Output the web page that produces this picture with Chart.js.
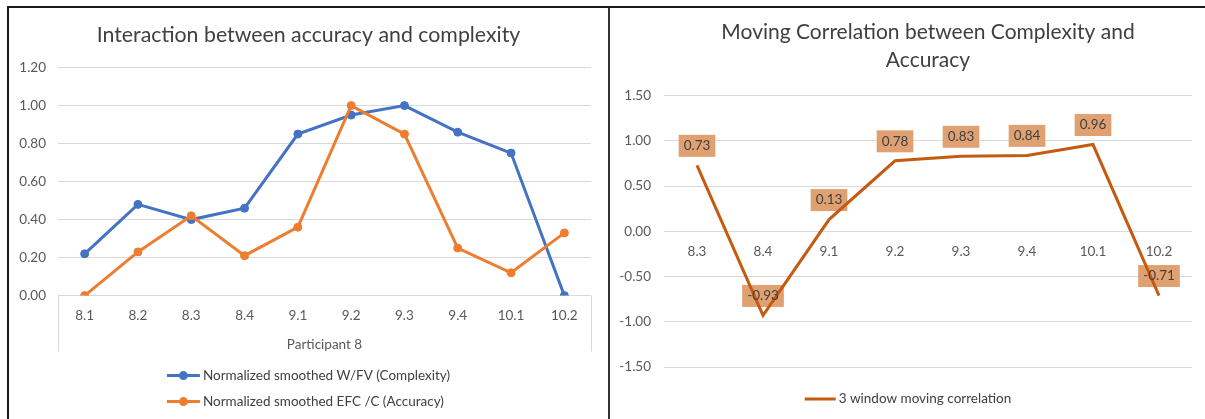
<!DOCTYPE html>
<html>
<head>
<meta charset="utf-8">
<script src="https://cdn.jsdelivr.net/npm/chart.js@4.4.1/dist/chart.umd.min.js"></script>
<style>
html,body{margin:0;padding:0;background:#fff;width:1205px;height:419px;overflow:hidden;}
#frame{position:absolute;left:7px;top:6px;width:1198px;height:413px;border-top:2px solid #1a1a1a;border-left:2px solid #1a1a1a;box-sizing:border-box;}
#divider{position:absolute;left:608px;top:8px;width:2px;height:411px;background:#333;}
#c1{position:absolute;left:9px;top:8px;}
#c2{position:absolute;left:611px;top:8px;}
</style>
</head>
<body>
<div id="frame"></div>
<div id="divider"></div>
<canvas id="c1" width="599" height="411"></canvas>
<canvas id="c2" width="594" height="411"></canvas>
<script>
// ---- data ----
const leftCategories = ['8.1','8.2','8.3','8.4','9.1','9.2','9.3','9.4','10.1','10.2'];
const complexitySeries = [0.22, 0.48, 0.40, 0.46, 0.85, 0.95, 1.00, 0.86, 0.75, 0.00];
const accuracySeries   = [0.00, 0.23, 0.42, 0.21, 0.36, 1.00, 0.85, 0.25, 0.12, 0.33];
const rightCategories = ['8.3','8.4','9.1','9.2','9.3','9.4','10.1','10.2'];
const movingCorrelation = [0.73, -0.93, 0.13, 0.78, 0.83, 0.84, 0.96, -0.71];
const leftTitle = 'Interaction between accuracy and complexity';
const leftXAxisTitle = 'Participant 8';
const rightTitle = ['Moving Correlation between Complexity and', 'Accuracy'];
const complexityLabel = 'Normalized smoothed W/FV (Complexity)';
const accuracyLabel = 'Normalized smoothed EFC /C (Accuracy)';
const correlationLabel = '3 window moving correlation';

// ---- style ----
const FONT = 'Lato';
const GRID = '#d9d9d9';
const TICK = '#595959';
const TEXT = '#404040';
Chart.defaults.font.family = FONT;
Chart.defaults.color = TICK;

function legendPlugin(offsetY, rowGap, lineLen, withMarker) {
  return {
    id: 'customLegend',
    afterDraw(chart) {
      const ctx = chart.ctx;
      ctx.save();
      ctx.font = '13.5px ' + FONT;
      const items = chart.data.datasets.map(ds => ({label: ds.label, color: ds.borderColor}));
      const maxW = Math.max(...items.map(it => ctx.measureText(it.label).width));
      const total = lineLen + 3 + maxW;
      const x0 = (chart.width - total) / 2;
      items.forEach((it, i) => {
        const y = chart.chartArea.bottom + offsetY + i * rowGap;
        ctx.strokeStyle = it.color; ctx.lineWidth = 3;
        ctx.beginPath(); ctx.moveTo(x0, y); ctx.lineTo(x0 + lineLen, y); ctx.stroke();
        if (withMarker) {
          ctx.fillStyle = it.color;
          ctx.beginPath(); ctx.arc(x0 + lineLen / 2, y, 4.5, 0, Math.PI * 2); ctx.fill();
        }
        ctx.fillStyle = TEXT; ctx.textAlign = 'left'; ctx.textBaseline = 'middle';
        ctx.fillText(it.label, x0 + lineLen + 3, y);
      });
      ctx.restore();
    }
  };
}

const edgeLines = {
  id: 'edgeLines',
  afterDraw(chart) {
    const {left, right, bottom} = chart.chartArea;
    const ctx = chart.ctx;
    ctx.save();
    ctx.strokeStyle = GRID; ctx.lineWidth = 1;
    [left, right].forEach(x => {
      ctx.beginPath(); ctx.moveTo(Math.round(x) + 0.5, bottom); ctx.lineTo(Math.round(x) + 0.5, bottom + 56); ctx.stroke();
    });
    ctx.restore();
  }
};

const dataLabels = {
  id: 'dataLabels',
  beforeDatasetsDraw(chart) {
    const ctx = chart.ctx;
    const meta = chart.getDatasetMeta(0);
    ctx.save();
    ctx.font = '13.5px ' + FONT;
    meta.data.forEach((pt, i) => {
      const txt = chart.data.datasets[0].data[i].toFixed(2);
      const w = ctx.measureText(txt).width + 10, h = 22;
      ctx.fillStyle = 'rgb(224,161,114)';
      ctx.fillRect(pt.x - w / 2, pt.y - 19.5 - h / 2, w, h);
    });
    ctx.restore();
  },
  afterDatasetsDraw(chart) {
    const ctx = chart.ctx;
    const meta = chart.getDatasetMeta(0);
    ctx.save();
    ctx.font = '13.5px ' + FONT;
    ctx.fillStyle = TEXT; ctx.textAlign = 'center'; ctx.textBaseline = 'middle';
    meta.data.forEach((pt, i) => {
      ctx.fillText(chart.data.datasets[0].data[i].toFixed(2), pt.x, pt.y - 19.5);
    });
    ctx.restore();
  }
};

// ---- left chart ----
new Chart(document.getElementById('c1'), {
  type: 'line',
  data: {
    labels: leftCategories,
    datasets: [
      {label: complexityLabel, data: complexitySeries, borderColor: '#4472C4', backgroundColor: '#4472C4',
       pointBackgroundColor: '#4472C4', pointBorderColor: '#4472C4', borderWidth: 3, pointRadius: 4, pointBorderWidth: 1, order: 2},
      {label: accuracyLabel, data: accuracySeries, borderColor: '#ED7D31', backgroundColor: '#ED7D31',
       pointBackgroundColor: '#ED7D31', pointBorderColor: '#ED7D31', borderWidth: 3, pointRadius: 4, pointBorderWidth: 1, order: 1}
    ]
  },
  options: {
    responsive: false, animation: false, devicePixelRatio: 1,
    layout: {padding: {left: 1, right: 1, top: 0, bottom: 66}},
    plugins: {
      legend: {display: false}, tooltip: {enabled: false},
      title: {display: true, text: leftTitle, color: TEXT, font: {size: 21.3, weight: 'normal'}, padding: {top: 14, bottom: 20}}
    },
    scales: {
      x: {offset: true, grid: {display: false, drawTicks: false}, border: {display: false},
          ticks: {padding: 12, font: {size: 13.5}, color: TICK, maxRotation: 0, autoSkip: false},
          title: {display: true, text: leftXAxisTitle, color: TICK, font: {size: 13.5}, padding: {top: 1, bottom: 0}},
          afterFit(s) { s.paddingLeft = 0; s.paddingRight = 0; }},
      y: {min: 0, max: 1.2, ticks: {stepSize: 0.2, padding: 12, font: {size: 13.5}, color: TICK, callback: v => Number(v).toFixed(2)},
          grid: {color: GRID, drawTicks: false}, border: {display: false},
          afterFit(s) { s.width = 48; }},
      ySpace: {position: 'right', grid: {display: false, drawTicks: false}, border: {display: false},
               ticks: {display: false}, afterFit(s) { s.width = 16; }}
    }
  },
  plugins: [edgeLines, legendPlugin(80, 26, 33, true)]
});

// ---- right chart ----
new Chart(document.getElementById('c2'), {
  type: 'line',
  data: {
    labels: rightCategories,
    datasets: [
      {label: correlationLabel, data: movingCorrelation, borderColor: '#C55A11', backgroundColor: '#C55A11',
       borderWidth: 3, pointRadius: 0}
    ]
  },
  options: {
    responsive: false, animation: false, devicePixelRatio: 1,
    layout: {padding: {left: 8, right: 13, top: 0, bottom: 52}},
    plugins: {
      legend: {display: false}, tooltip: {enabled: false},
      title: {display: true, fullSize: false, text: rightTitle, color: TEXT, font: {size: 21, weight: 'normal', lineHeight: 1.35}, padding: {top: 10, bottom: 21}}
    },
    scales: {
      x: {offset: true, position: {y: 0}, grid: {display: false, drawTicks: false}, border: {display: false},
          ticks: {padding: 12, font: {size: 13.5}, color: TICK, maxRotation: 0, autoSkip: false},
          afterFit(s) { s.paddingLeft = 0; s.paddingRight = 0; }},
      y: {min: -1.5, max: 1.5, ticks: {stepSize: 0.5, padding: 13, font: {size: 13.5}, color: TICK, callback: v => Number(v).toFixed(2)},
          grid: {color: GRID, drawTicks: false}, border: {display: false},
          afterFit(s) { s.width = 45; }}
    }
  },
  plugins: [dataLabels, legendPlugin(32, 26, 31, false)]
});
</script>
</body>
</html>
